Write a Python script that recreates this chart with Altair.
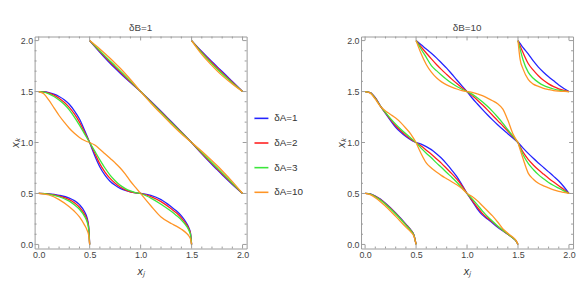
import altair as alt
import pandas as pd

DELTA_LABELS = ["δA=1", "δA=2", "δA=3", "δA=10"]
LINE_COLORS = ["#2424ff", "#ff1f1f", "#3be63b", "#ff9526"]

TICK_MAJOR = [0.0, 0.5, 1.0, 1.5, 2.0]
TICK_MINOR = [0.1, 0.2, 0.3, 0.4, 0.6, 0.7, 0.8, 0.9, 1.1, 1.2, 1.3, 1.4, 1.6, 1.7, 1.8, 1.9]

# ---------------- left panel: delta_B = 1 ----------------
LA_x = [0, 0.1, 0.2, 0.3, 0.35, 0.4, 0.45, 0.475, 0.49, 0.5]
LA_1 = [0.5, 0.496, 0.482, 0.455, 0.43, 0.39, 0.32, 0.26, 0.18, 0.0]
LA_2 = [0.5, 0.494, 0.475, 0.44, 0.41, 0.365, 0.295, 0.24, 0.165, 0.0]
LA_3 = [0.5, 0.492, 0.468, 0.425, 0.39, 0.345, 0.275, 0.22, 0.15, 0.0]
LA_10 = [0.5, 0.485, 0.44, 0.37, 0.325, 0.27, 0.19, 0.14, 0.09, 0.0]

LB_x = [0, 0.05, 0.1, 0.15, 0.2, 0.25, 0.3, 0.35, 0.4, 0.45, 0.5]
LB_1 = [1.5, 1.498, 1.49, 1.475, 1.452, 1.42, 1.375, 1.31, 1.23, 1.12, 1.0]
LB_2 = [1.5, 1.497, 1.485, 1.465, 1.435, 1.395, 1.345, 1.28, 1.2, 1.1, 1.0]
LB_3 = [1.5, 1.495, 1.478, 1.452, 1.418, 1.375, 1.32, 1.25, 1.17, 1.085, 1.0]
LB_10 = [1.5, 1.478, 1.415, 1.34, 1.265, 1.2, 1.14, 1.09, 1.05, 1.02, 1.0]

LC_x = [0.5, 0.6, 0.7, 0.75, 0.8, 0.9, 1.0]
LC_1 = [2.0, 1.886, 1.778, 1.728, 1.68, 1.588, 1.5]
LC_2 = [2.0, 1.893, 1.789, 1.74, 1.691, 1.595, 1.5]
LC_3 = [2.0, 1.9, 1.8, 1.752, 1.703, 1.602, 1.5]
LC_10 = [2.0, 1.917, 1.826, 1.778, 1.728, 1.618, 1.5]

LD_x = [0.5, 0.55, 0.6, 0.65, 0.7, 0.75, 0.8, 0.85, 0.9, 0.95, 1.0]
LD_1 = [1.0, 0.87, 0.76, 0.68, 0.62, 0.58, 0.55, 0.53, 0.515, 0.505, 0.5]
LD_2 = [1.0, 0.895, 0.79, 0.71, 0.648, 0.6, 0.563, 0.535, 0.516, 0.505, 0.5]
LD_3 = [1.0, 0.915, 0.83, 0.75, 0.68, 0.625, 0.58, 0.548, 0.525, 0.508, 0.5]
LD_10 = [1.0, 0.975, 0.935, 0.89, 0.845, 0.8, 0.75, 0.69, 0.62, 0.56, 0.5]

LE_x = [1.0, 1.1, 1.2, 1.25, 1.3, 1.4, 1.5]
LE_1 = [1.5, 1.404, 1.306, 1.256, 1.206, 1.104, 1.0]
LE_2 = [1.5, 1.4, 1.3, 1.25, 1.2, 1.1, 1.0]
LE_3 = [1.5, 1.396, 1.294, 1.244, 1.194, 1.096, 1.0]
LE_10 = [1.5, 1.388, 1.283, 1.232, 1.182, 1.086, 1.0]

LF_x = [1.0, 1.1, 1.2, 1.3, 1.35, 1.4, 1.45, 1.475, 1.49, 1.5]
LF_1 = [0.5, 0.482, 0.44, 0.37, 0.33, 0.28, 0.21, 0.16, 0.11, 0.0]
LF_2 = [0.5, 0.47, 0.42, 0.35, 0.31, 0.26, 0.195, 0.15, 0.1, 0.0]
LF_3 = [0.5, 0.455, 0.395, 0.325, 0.285, 0.24, 0.18, 0.135, 0.09, 0.0]
LF_10 = [0.5, 0.38, 0.27, 0.205, 0.18, 0.15, 0.11, 0.08, 0.05, 0.0]

LG_x = [1.5, 1.6, 1.7, 1.75, 1.8, 1.9, 2.0]
LG_1 = [2.0, 1.893, 1.792, 1.744, 1.696, 1.598, 1.5]
LG_2 = [2.0, 1.886, 1.782, 1.733, 1.685, 1.591, 1.5]
LG_3 = [2.0, 1.879, 1.772, 1.722, 1.674, 1.584, 1.5]
LG_10 = [2.0, 1.864, 1.754, 1.703, 1.656, 1.573, 1.5]

LH_x = [1.5, 1.6, 1.7, 1.75, 1.8, 1.9, 2.0]
LH_1 = [1.0, 0.889, 0.784, 0.734, 0.684, 0.589, 0.5]
LH_2 = [1.0, 0.895, 0.793, 0.743, 0.693, 0.595, 0.5]
LH_3 = [1.0, 0.902, 0.802, 0.752, 0.702, 0.601, 0.5]
LH_10 = [1.0, 0.914, 0.822, 0.774, 0.723, 0.616, 0.5]

# ---------------- right panel: delta_B = 10 ----------------
RA_x = [0, 0.05, 0.1, 0.15, 0.2, 0.3, 0.4, 0.45, 0.48, 0.5]
RA_1 = [0.5, 0.495, 0.475, 0.445, 0.405, 0.31, 0.2, 0.14, 0.09, 0.0]
RA_2 = [0.5, 0.494, 0.472, 0.44, 0.4, 0.305, 0.195, 0.137, 0.088, 0.0]
RA_3 = [0.5, 0.493, 0.468, 0.435, 0.394, 0.298, 0.19, 0.133, 0.085, 0.0]
RA_10 = [0.5, 0.488, 0.458, 0.42, 0.375, 0.275, 0.17, 0.12, 0.078, 0.0]

RB_x = [0, 0.05, 0.1, 0.15, 0.2, 0.25, 0.3, 0.35, 0.4, 0.45, 0.5]
RB_1 = [1.5, 1.49, 1.44, 1.36, 1.285, 1.215, 1.15, 1.1, 1.058, 1.025, 1.0]
RB_2 = [1.5, 1.489, 1.437, 1.358, 1.29, 1.225, 1.165, 1.115, 1.07, 1.033, 1.0]
RB_3 = [1.5, 1.488, 1.433, 1.357, 1.295, 1.235, 1.18, 1.13, 1.085, 1.042, 1.0]
RB_10 = [1.5, 1.485, 1.425, 1.355, 1.31, 1.275, 1.24, 1.195, 1.14, 1.08, 1.0]

RC_x = [0.5, 0.55, 0.6, 0.65, 0.7, 0.75, 0.8, 0.85, 0.9, 0.95, 1.0]
RC_1 = [2.0, 1.958, 1.918, 1.876, 1.83, 1.78, 1.73, 1.672, 1.613, 1.556, 1.5]
RC_2 = [2.0, 1.937, 1.878, 1.82, 1.765, 1.715, 1.668, 1.622, 1.578, 1.537, 1.5]
RC_3 = [2.0, 1.915, 1.835, 1.755, 1.705, 1.66, 1.618, 1.582, 1.55, 1.523, 1.5]
RC_10 = [2.0, 1.87, 1.765, 1.69, 1.635, 1.595, 1.565, 1.543, 1.525, 1.51, 1.5]

RD_x = [0.5, 0.55, 0.6, 0.65, 0.7, 0.75, 0.8, 0.85, 0.9, 0.95, 1.0]
RD_1 = [1.0, 0.985, 0.96, 0.93, 0.89, 0.845, 0.79, 0.73, 0.665, 0.585, 0.5]
RD_2 = [1.0, 0.965, 0.925, 0.885, 0.84, 0.795, 0.745, 0.695, 0.64, 0.575, 0.5]
RD_3 = [1.0, 0.945, 0.895, 0.85, 0.8, 0.755, 0.705, 0.66, 0.61, 0.555, 0.5]
RD_10 = [1.0, 0.89, 0.8, 0.75, 0.71, 0.675, 0.645, 0.615, 0.585, 0.548, 0.5]

RE_x = [1.0, 1.05, 1.1, 1.15, 1.2, 1.25, 1.3, 1.35, 1.4, 1.45, 1.5]
RE_1 = [1.5, 1.437, 1.38, 1.325, 1.272, 1.222, 1.175, 1.13, 1.087, 1.044, 1.0]
RE_2 = [1.5, 1.46, 1.418, 1.37, 1.32, 1.268, 1.215, 1.165, 1.113, 1.058, 1.0]
RE_3 = [1.5, 1.475, 1.44, 1.4, 1.355, 1.305, 1.25, 1.19, 1.125, 1.065, 1.0]
RE_10 = [1.5, 1.493, 1.478, 1.46, 1.436, 1.41, 1.38, 1.33, 1.22, 1.085, 1.0]

RF_x = [1.0, 1.05, 1.1, 1.15, 1.2, 1.25, 1.3, 1.35, 1.4, 1.45, 1.48, 1.5]
RF_1 = [0.5, 0.425, 0.35, 0.29, 0.25, 0.21, 0.168, 0.135, 0.1, 0.062, 0.035, 0.0]
RF_2 = [0.5, 0.433, 0.365, 0.305, 0.26, 0.22, 0.175, 0.138, 0.1, 0.062, 0.035, 0.0]
RF_3 = [0.5, 0.447, 0.39, 0.33, 0.275, 0.228, 0.18, 0.14, 0.102, 0.063, 0.035, 0.0]
RF_10 = [0.5, 0.47, 0.43, 0.38, 0.33, 0.28, 0.22, 0.155, 0.11, 0.07, 0.04, 0.0]

RG_x = [1.5, 1.52, 1.55, 1.6, 1.65, 1.7, 1.75, 1.8, 1.85, 1.9, 1.95, 2.0]
RG_1 = [2.0, 1.972, 1.93, 1.87, 1.8, 1.74, 1.69, 1.645, 1.605, 1.565, 1.53, 1.5]
RG_2 = [2.0, 1.95, 1.88, 1.775, 1.71, 1.655, 1.61, 1.575, 1.548, 1.527, 1.511, 1.5]
RG_3 = [2.0, 1.92, 1.81, 1.69, 1.63, 1.59, 1.56, 1.54, 1.525, 1.513, 1.505, 1.5]
RG_10 = [2.0, 1.82, 1.72, 1.62, 1.573, 1.55, 1.532, 1.52, 1.51, 1.505, 1.502, 1.5]

RH_x = [1.5, 1.55, 1.6, 1.65, 1.7, 1.75, 1.8, 1.85, 1.9, 1.95, 2.0]
RH_1 = [1.0, 0.945, 0.893, 0.845, 0.8, 0.756, 0.712, 0.668, 0.622, 0.566, 0.5]
RH_2 = [1.0, 0.905, 0.835, 0.78, 0.732, 0.69, 0.65, 0.612, 0.575, 0.54, 0.5]
RH_3 = [1.0, 0.88, 0.795, 0.735, 0.685, 0.645, 0.608, 0.578, 0.552, 0.526, 0.5]
RH_10 = [1.0, 0.84, 0.7, 0.64, 0.6, 0.575, 0.555, 0.535, 0.52, 0.51, 0.5]

LEFT_SEGMENTS = [
    ("A", LA_x, [LA_1, LA_2, LA_3, LA_10]),
    ("B", LB_x, [LB_1, LB_2, LB_3, LB_10]),
    ("C", LC_x, [LC_1, LC_2, LC_3, LC_10]),
    ("D", LD_x, [LD_1, LD_2, LD_3, LD_10]),
    ("E", LE_x, [LE_1, LE_2, LE_3, LE_10]),
    ("F", LF_x, [LF_1, LF_2, LF_3, LF_10]),
    ("G", LG_x, [LG_1, LG_2, LG_3, LG_10]),
    ("H", LH_x, [LH_1, LH_2, LH_3, LH_10]),
]
RIGHT_SEGMENTS = [
    ("A", RA_x, [RA_1, RA_2, RA_3, RA_10]),
    ("B", RB_x, [RB_1, RB_2, RB_3, RB_10]),
    ("C", RC_x, [RC_1, RC_2, RC_3, RC_10]),
    ("D", RD_x, [RD_1, RD_2, RD_3, RD_10]),
    ("E", RE_x, [RE_1, RE_2, RE_3, RE_10]),
    ("F", RF_x, [RF_1, RF_2, RF_3, RF_10]),
    ("G", RG_x, [RG_1, RG_2, RG_3, RG_10]),
    ("H", RH_x, [RH_1, RH_2, RH_3, RH_10]),
]

W = 215
H = 215
DOM = [-0.04, 2.04]
FONT = "Liberation Sans"
FRAME = "#9a9a9a"


def panel(segments, title, legend):
    rows = []
    for name, xs, ys_list in segments:
        for lab, ys in zip(DELTA_LABELS, ys_list):
            for xv, yv in zip(xs, ys):
                rows.append({"seg": name + lab, "delta": lab, "x": xv, "y": yv})
    df = pd.DataFrame(rows)
    sx = alt.Scale(domain=DOM, nice=False, zero=False)
    sy = alt.Scale(domain=DOM, nice=False, zero=False)
    ax = alt.Axis(values=TICK_MAJOR, format=".1f", title="xⱼ", titlePadding=6)
    ay = alt.Axis(values=TICK_MAJOR, format=".1f", title="xₖ", titlePadding=0)
    lines = alt.Chart(df).mark_line(interpolate="monotone", strokeWidth=1.3).encode(
        x=alt.X("x:Q", scale=sx, axis=ax),
        y=alt.Y("y:Q", scale=sy, axis=ay),
        color=alt.Color("delta:N",
                        scale=alt.Scale(domain=DELTA_LABELS, range=LINE_COLORS),
                        legend=legend),
        detail="seg:N",
    )
    layers = [lines]
    for vals, L in ((TICK_MAJOR, 4), (TICK_MINOR, 2)):
        tdf = pd.DataFrame({"v": vals})
        base = alt.Chart(tdf).mark_rule(color=FRAME, strokeWidth=1)
        layers.append(base.encode(x=alt.X("v:Q", scale=sx, axis=ax),
                                  y=alt.value(H), y2=alt.value(H - L)))
        layers.append(base.encode(x=alt.X("v:Q", scale=sx, axis=ax),
                                  y=alt.value(0), y2=alt.value(L)))
        layers.append(base.encode(y=alt.Y("v:Q", scale=sy, axis=ay),
                                  x=alt.value(0), x2=alt.value(L)))
        layers.append(base.encode(y=alt.Y("v:Q", scale=sy, axis=ay),
                                  x=alt.value(W), x2=alt.value(W - L)))
    return alt.layer(*layers).properties(
        width=W, height=H,
        title=alt.TitleParams(title, fontSize=10, font=FONT, color="#444",
                              fontWeight="normal", offset=3),
    )


legend_left = alt.Legend(
    title=None, orient="none", legendX=222, legendY=75,
    symbolType="stroke", symbolStrokeWidth=1.6, symbolSize=200,
    labelFontSize=10, labelFont=FONT, labelColor="#333",
    rowPadding=12, labelOffset=5, padding=0,
)

left = panel(LEFT_SEGMENTS, "δB=1", legend_left)
right = panel(RIGHT_SEGMENTS, "δB=10", None)

chart = (
    alt.hconcat(left, right, spacing=30)
    .resolve_scale(color="independent")
    .resolve_legend(color="independent")
    .properties(padding={"left": 0, "top": 13, "right": 0, "bottom": 0})
    .configure_view(stroke=FRAME, strokeWidth=1)
    .configure_axis(
        ticks=False, domain=False, grid=False,
        labelFont=FONT, labelFontSize=9, labelColor="#444", labelPadding=2,
        titleFont=FONT, titleFontSize=11, titleFontWeight="normal",
        titleFontStyle="italic", titleColor="#333",
    )
)

chart.save("out.html", embed_options={"renderer": "svg", "actions": False})
